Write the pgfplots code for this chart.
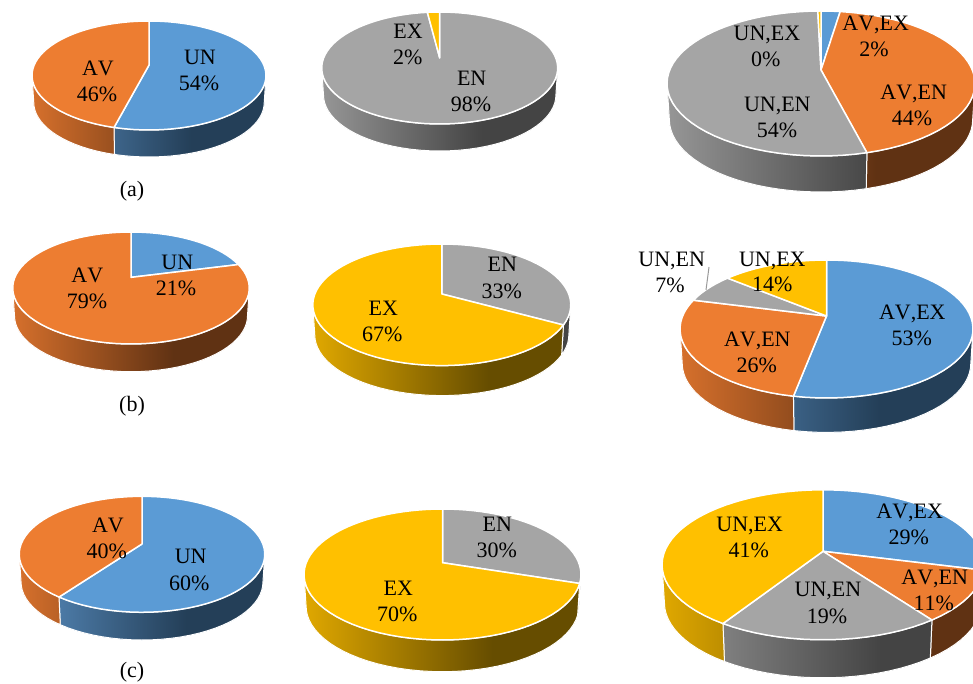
\documentclass[border=0pt]{standalone}
\usepackage{fontspec}
\setmainfont[Kerning=Off]{Liberation Serif}
\usepackage{pgfplots}
\usepackage{pgfplotstable}
\pgfplotsset{compat=1.18}

% Slice colours and the dark rim gradient that runs across a whole pie
\definecolor{pieblue}{HTML}{5B9BD5}
\definecolor{pieorange}{HTML}{ED7D31}
\definecolor{piegray}{HTML}{A5A5A5}
\definecolor{pieyellow}{HTML}{FFC000}
\definecolor{rimblueL}{RGB}{88,140,190}
\definecolor{rimblueD}{RGB}{36,63,88}
\definecolor{rimorangeL}{RGB}{214,112,44}
\definecolor{rimorangeD}{RGB}{96,50,19}
\definecolor{rimgrayL}{RGB}{150,150,150}
\definecolor{rimgrayD}{RGB}{68,68,68}
\definecolor{rimyellowL}{RGB}{224,168,0}
\definecolor{rimyellowD}{RGB}{102,77,0}
\pgfdeclarehorizontalshading{sidepieblue}{100bp}{color(0bp)=(rimblueL); color(25bp)=(rimblueL); color(59bp)=(rimblueD); color(100bp)=(rimblueD)}
\pgfdeclarehorizontalshading{sidepieorange}{100bp}{color(0bp)=(rimorangeL); color(25bp)=(rimorangeL); color(59bp)=(rimorangeD); color(100bp)=(rimorangeD)}
\pgfdeclarehorizontalshading{sidepiegray}{100bp}{color(0bp)=(rimgrayL); color(25bp)=(rimgrayL); color(59bp)=(rimgrayD); color(100bp)=(rimgrayD)}
\pgfdeclarehorizontalshading{sidepieyellow}{100bp}{color(0bp)=(rimyellowL); color(25bp)=(rimyellowL); color(59bp)=(rimyellowD); color(100bp)=(rimyellowD)}

% Shares of each pie, clockwise from twelve o'clock
\pgfplotstableread{
share hue
54 pieblue
46 pieorange
}\pieAa
\pgfplotstableread{
share hue
98 piegray
2 pieyellow
}\pieAb
\pgfplotstableread{
share hue
2.4 pieblue
43.6 pieorange
53.6 piegray
0.4 pieyellow
}\pieAc
\pgfplotstableread{
share hue
21 pieblue
79 pieorange
}\pieBa
\pgfplotstableread{
share hue
33 piegray
67 pieyellow
}\pieBb
\pgfplotstableread{
share hue
53 pieblue
26 pieorange
7 piegray
14 pieyellow
}\pieBc
\pgfplotstableread{
share hue
60 pieblue
40 pieorange
}\pieCa
\pgfplotstableread{
share hue
30 piegray
70 pieyellow
}\pieCb
\pgfplotstableread{
share hue
29 pieblue
11 pieorange
19 piegray
41 pieyellow
}\pieCc

\newcount\pieRow
\newcount\pieRows
\newcount\arcStep
\newcount\arcSteps

% Rim points of a tilted disc, seen in perspective (hub above the ellipse centre)
% #1,#2 angle range, #3 downward shift, #4 horizontal scale
\newcommand\rimPoints[4]{%
  \pgfmathtruncatemacro\arcN{max(2,ceil(abs(#2-#1)/4))}%
  \arcSteps=\arcN\relax
  \arcStep=0\relax
  \loop
    \pgfmathsetmacro\ang{#1+(#2-#1)*(\the\arcStep/\the\arcSteps)}%
    \pgfmathsetmacro\den{1+\pV*cos(\ang)}%
    \pgfmathsetmacro\ptX{\pCx+#4*\pRx*sin(\ang)*sqrt(1-\pV*\pV)/\den}%
    \pgfmathsetmacro\ptY{\pCy+#3-\pRy*(cos(\ang)+\pV)/\den}%
    \xdef\pts{\pts (\ptX,\ptY)}%
  \ifnum\arcStep<\arcSteps
    \advance\arcStep by 1\relax
  \repeat
}

\newcommand\sliceBounds[1]{%
  \pgfplotstablegetelem{\the\pieRow}{share}\of{#1}%
  \edef\share{\pgfplotsretval}%
  \pgfplotstablegetelem{\the\pieRow}{hue}\of{#1}%
  \edef\hue{\pgfplotsretval}%
  \pgfmathsetmacro\angA{\acc*3.6}%
  \pgfmathsetmacro\acc{\acc+\share}%
  \pgfmathsetmacro\angB{\acc*3.6}%
}

% Front wall of every slice
\newcommand\sidePass[1]{%
  \sliceBounds{#1}%
  \pgfmathsetmacro\lo{max(\angA,\rimStart)}%
  \pgfmathsetmacro\up{min(\angB,\rimEnd)}%
  \pgfmathtruncatemacro\hasSide{\up>\lo+0.01 ? 1 : 0}%
  \ifnum\hasSide=1
    \gdef\pts{}%
    \rimPoints{\lo}{\up}{0}{1}%
    \rimPoints{\up}{\lo}{\pD}{0.985}%
    \pgfmathsetmacro\xl{\pCx-\pRx}%
    \pgfmathsetmacro\xr{\pCx+\pRx}%
    \edef\tmp{\noexpand\addplot[forget plot, fill=\hue, draw=white, line width=1pt,
      path picture={\noexpand\shade[path picture={}, overlay, draw=none, shading=side\hue] (axis cs:\xl,-100) rectangle (axis cs:\xr,800);}]
      coordinates {\pts} --cycle;}%
    \tmp
  \fi
  \advance\pieRow by 1\relax
  \ifnum\pieRow<\pieRows
    \sidePass{#1}%
  \fi
}

% Top face of every slice
\newcommand\topPass[1]{%
  \sliceBounds{#1}%
  \pgfmathsetmacro\hubY{\pCy-\pRy*\pV}%
  \xdef\pts{(\pHub,\hubY)}%
  \rimPoints{\angA}{\angB}{0}{1}%
  \edef\tmp{\noexpand\addplot[forget plot, fill=\hue, draw=white, line width=1.5pt, line join=round]
    coordinates {\pts} --cycle;}%
  \tmp
  \advance\pieRow by 1\relax
  \ifnum\pieRow<\pieRows
    \topPass{#1}%
  \fi
}

% #1 table, #2 cx, #3 cy, #4 rx, #5 ry, #6 hub offset, #7 thickness
\newcommand\drawPie[7]{%
  \def\pCx{#2}\def\pHub{#2}\def\pCy{#3}\def\pRx{#4}\def\pRy{#5}\def\pV{#6}\def\pD{#7}%
  \pgfmathsetmacro\rimStart{acos(-\pV)}%
  \pgfmathsetmacro\rimEnd{360-\rimStart}%
  \pgfplotstablegetrowsof{#1}%
  \pieRows=\pgfplotsretval\relax
  \pieRow=0\relax
  \def\acc{0}%
  \sidePass{#1}%
  \pieRow=0\relax
  \def\acc{0}%
  \topPass{#1}%
}

% Two-line data label placed by its baselines
\newcommand\pieLabel[6]{%
  \node[anchor=base,inner sep=0pt,font=\fontsize{22}{25}\selectfont] at (axis cs:#1,#2) {#3};
  \node[anchor=base,inner sep=0pt,font=\fontsize{22}{25}\selectfont] at (axis cs:#4,#5) {#6};
}
\newcommand\rowTag[3]{%
  \node[anchor=base,inner sep=0pt,font=\fontsize{22}{25}\selectfont] at (axis cs:#1,#2) {#3};
}

\begin{document}
\begin{tikzpicture}
\begin{axis}[
  width=973pt, height=684pt, scale only axis,
  xmin=0, xmax=973, ymin=0, ymax=684,
  y dir=reverse, hide axis, clip=true,
]
\drawPie{\pieAa}{149}{75.5}{117}{54.5}{0.19}{27}
\drawPie{\pieAb}{439.7}{68}{118}{56}{0.18}{27}
\drawPie{\pieAc}{821}{83.5}{154}{72.5}{0.186}{36}
\drawPie{\pieBa}{131}{288}{118.3}{56}{0.19}{27.7}
\drawPie{\pieBb}{441.8}{304.8}{129}{60.8}{0.178}{30}
\drawPie{\pieBc}{826.5}{329}{146.5}{69}{0.188}{34.4}
\drawPie{\pieCa}{142}{554.3}{122.8}{58}{0.178}{27.7}
\drawPie{\pieCb}{442.5}{574.5}{138.5}{65.5}{0.18}{31.7}
\drawPie{\pieCc}{823}{564.8}{161}{75}{0.18}{38}

% Leader line of the small slice in the middle row
\addplot[forget plot, color=gray!80, line width=1pt] coordinates {(709,267) (706,290)};

\pieLabel{98}{76}{AV}{97}{101.7}{46\%}
\pieLabel{200}{65}{UN}{199}{91}{54\%}
\pieLabel{408}{38.3}{EX}{407.7}{64.3}{2\%}
\pieLabel{471.7}{85.7}{EN}{471}{111.7}{98\%}
\pieLabel{767}{40.7}{UN,EX}{765.7}{66.7}{0\%}
\pieLabel{875.7}{30.7}{AV,EX}{874}{56.7}{2\%}
\pieLabel{913.7}{99.3}{AV,EN}{912}{126}{44\%}
\pieLabel{777.3}{111.7}{UN,EN}{777}{137.7}{54\%}

\pieLabel{87.3}{282.3}{AV}{87}{308.3}{79\%}
\pieLabel{177.3}{269.3}{UN}{176}{295.7}{21\%}
\pieLabel{502.3}{271.7}{EN}{501.7}{298.3}{33\%}
\pieLabel{383.3}{315}{EX}{382.3}{341}{67\%}
\pieLabel{671.7}{266}{UN,EN}{670}{292.7}{7\%}
\pieLabel{772.3}{266}{UN,EX}{772.3}{291.7}{14\%}
\pieLabel{912.3}{319.3}{AV,EX}{911.7}{345}{53\%}
\pieLabel{757.3}{346.7}{AV,EN}{756.7}{372.7}{26\%}

\pieLabel{108}{532.3}{AV}{106.7}{558.3}{40\%}
\pieLabel{190.7}{563.3}{UN}{189.3}{590}{60\%}
\pieLabel{497.3}{531.7}{EN}{496.7}{557.7}{30\%}
\pieLabel{398.3}{595}{EX}{397.3}{621.7}{70\%}
\pieLabel{909.7}{518}{AV,EX}{908.7}{544}{29\%}
\pieLabel{749.7}{531.3}{UN,EX}{748.7}{557.3}{41\%}
\pieLabel{934.7}{584}{AV,EN}{933.7}{610.7}{11\%}
\pieLabel{828}{596.7}{UN,EN}{827}{623}{19\%}

\rowTag{132}{197}{(a)}
\rowTag{132}{411}{(b)}
\rowTag{132}{677}{(c)}
\end{axis}
% The page is exactly the plot area; the clipped rims stay outside it
\pgfresetboundingbox
\path[use as bounding box] (0,0) rectangle (973pt,684pt);
\end{tikzpicture}
\end{document}
